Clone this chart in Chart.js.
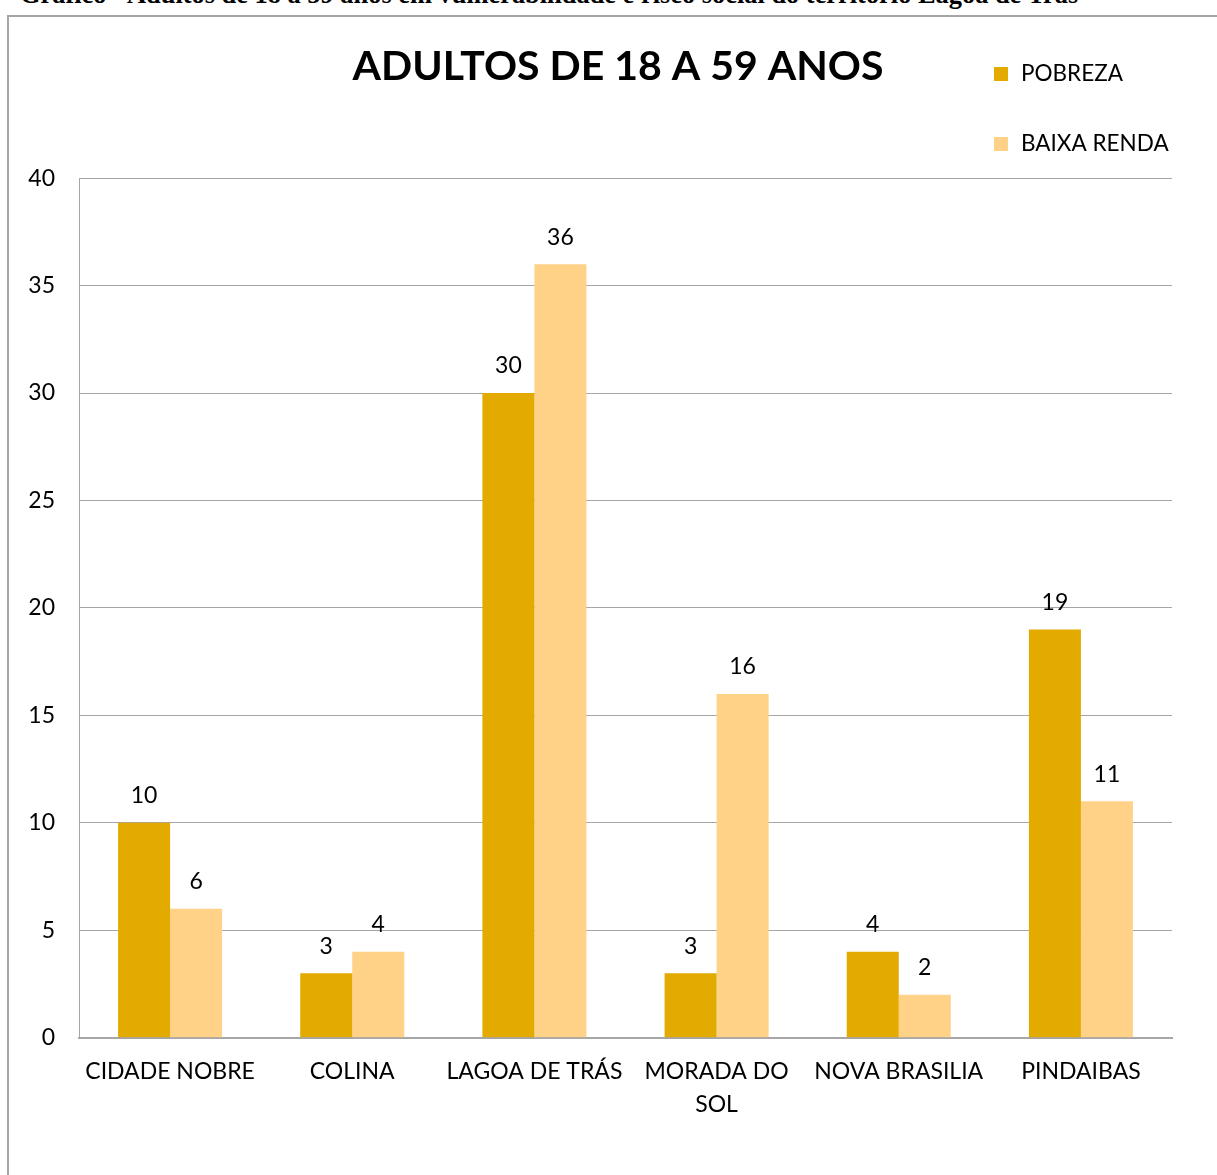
<!DOCTYPE html>
<html>
<head>
<meta charset="utf-8">
<script src="https://cdn.jsdelivr.net/npm/chart.js@4"></script>
<style>
  body { margin: 0; background: #fff; overflow: hidden; }
  #caption {
    position: absolute; left: 20px; top: -19px;
    font: bold 26.4px "Liberation Serif", serif; line-height: 26px;
    white-space: nowrap; color: #000;
  }
  #frame {
    position: absolute; left: 7px; top: 15px; width: 1220px; height: 1170px;
    border-left: 2px solid #a6a6a6; border-top: 2px solid #a6a6a6;
  }
  #wrap { position: absolute; left: 9px; top: 17px; width: 1208px; height: 1158px; }
</style>
</head>
<body>
<div id="caption">Gráfico - Adultos de 18 a 59 anos em vulnerabilidade e risco social do território Lagoa de Trás</div>
<div id="frame"></div>
<div id="wrap"><canvas id="barChart"></canvas></div>
<script>
// chart values
const bairros = [
  'CIDADE NOBRE',
  'COLINA',
  'LAGOA DE TRÁS',
  ['MORADA DO', 'SOL'],
  'NOVA BRASILIA',
  'PINDAIBAS'
];
const pobreza = [10, 3, 30, 3, 4, 19];
const baixaRenda = [6, 4, 36, 16, 2, 11];
const yTicks = [0, 5, 10, 15, 20, 25, 30, 35, 40];

const fontName = 'Lato, "Open Sans", sans-serif';

// value labels above the bars
const valueLabels = {
  id: 'valueLabels',
  afterDatasetsDraw(chart) {
    const ctx = chart.ctx;
    ctx.save();
    ctx.font = '23px ' + fontName;
    ctx.fillStyle = '#000';
    ctx.textAlign = 'center';
    ctx.textBaseline = 'middle';
    chart.data.datasets.forEach((ds, i) => {
      chart.getDatasetMeta(i).data.forEach((bar, j) => {
        ctx.fillText(ds.data[j], bar.x, bar.y - 27);
      });
    });
    ctx.restore();
  }
};

// legend stacked in the top right corner
const cornerLegend = {
  id: 'cornerLegend',
  afterDraw(chart) {
    const ctx = chart.ctx;
    ctx.save();
    ctx.font = '22.5px ' + fontName;
    ctx.textBaseline = 'middle';
    chart.data.datasets.forEach((ds, i) => {
      const y = 57 + i * 70;
      ctx.fillStyle = ds.backgroundColor;
      ctx.fillRect(985, y - 7, 14, 14);
      ctx.fillStyle = '#000';
      ctx.fillText(ds.label, 1012, y);
    });
    ctx.restore();
  }
};

const ctx = document.getElementById('barChart').getContext('2d');
new Chart(ctx, {
  type: 'bar',
  data: {
    labels: bairros,
    datasets: [
      { label: 'POBREZA', data: pobreza, backgroundColor: '#E3AA00' },
      { label: 'BAIXA RENDA', data: baixaRenda, backgroundColor: '#FFD287' }
    ]
  },
  options: {
    responsive: true,
    maintainAspectRatio: false,
    animation: false,
    datasets: { bar: { barPercentage: 1, categoryPercentage: 0.571 } },
    layout: { padding: { left: 10, right: 0, top: 0, bottom: 36 } },
    plugins: {
      legend: { display: false },
      tooltip: { enabled: false },
      title: {
        display: true,
        text: 'ADULTOS DE 18 A 59 ANOS',
        color: '#000',
        font: { family: fontName, size: 41, weight: 'bold', lineHeight: 1.2 },
        padding: { top: 25, bottom: 87 }
      }
    },
    scales: {
      x: {
        grid: { display: false, drawTicks: false },
        border: { color: '#a6a6a6', width: 2 },
        ticks: {
          color: '#000', autoSkip: false, maxRotation: 0, minRotation: 0, padding: 18,
          font: { family: fontName, size: 23, lineHeight: 1.42 }
        }
      },
      y: {
        min: 0, max: 40,
        afterFit(scale) { scale.width = 60; },
        afterBuildTicks(scale) { scale.ticks = yTicks.map(v => ({ value: v })); },
        grid: { color: '#a6a6a6', drawTicks: false },
        border: { color: '#a6a6a6', width: 1 },
        ticks: {
          color: '#000', padding: 24,
          font: { family: fontName, size: 23 }
        }
      },
      // empty right axis, only keeps the space to the right of the plot
      yRight: {
        position: 'right',
        min: 0, max: 40,
        afterFit(scale) { scale.width = 45; },
        grid: { display: false },
        border: { display: false },
        ticks: { display: false }
      }
    }
  },
  plugins: [valueLabels, cornerLegend]
});
</script>
</body>
</html>
